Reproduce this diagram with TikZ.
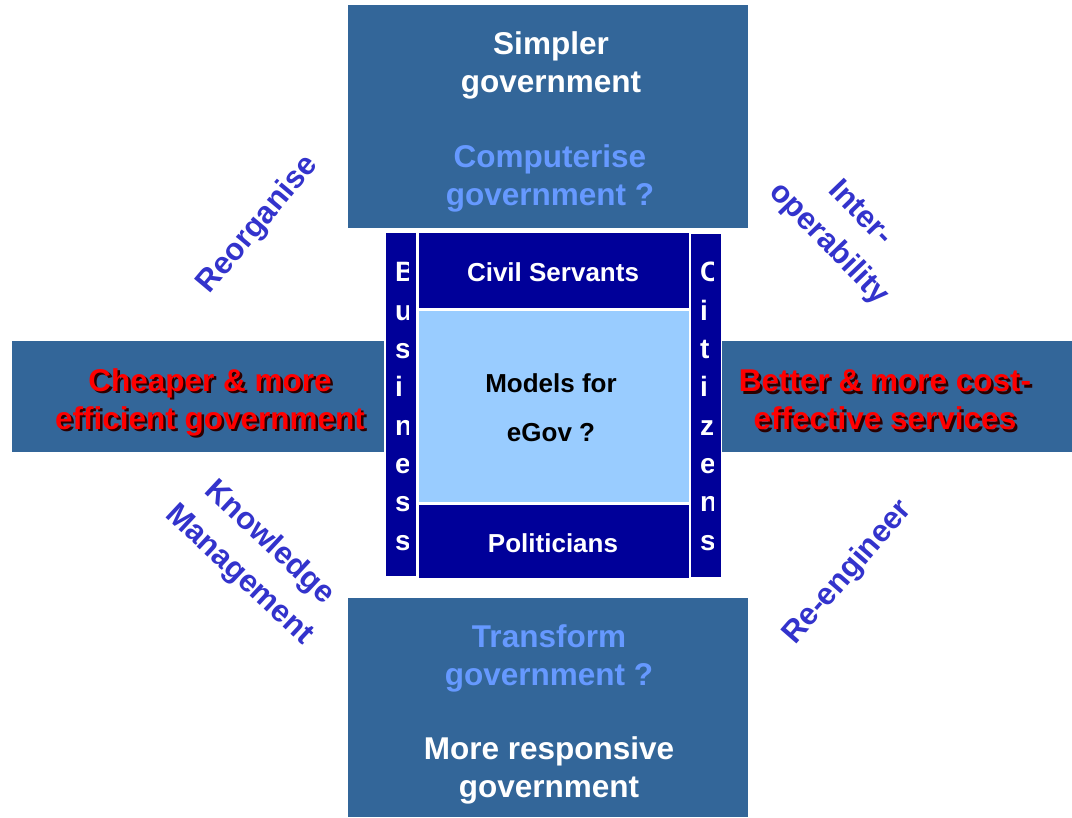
\documentclass[tikz,border=0pt]{standalone}
\usepackage{fontspec}
\setmainfont{Liberation Sans}
\definecolor{boxblue}{HTML}{336699}
\definecolor{navy}{HTML}{000099}
\definecolor{lightfill}{HTML}{99CCFF}
\definecolor{lighttext}{HTML}{6699FF}
\definecolor{diag}{HTML}{3333CC}
\definecolor{redtext}{HTML}{FF0000}
\definecolor{shadowc}{HTML}{2A0000}
\tikzset{
  bigbox/.style={fill=boxblue, draw=none},
  navybox/.style={fill=navy, draw=none},
  bigtext/.style={font=\bfseries\fontsize{31.5}{38}\selectfont, align=center, inner sep=0pt},
  midtext/.style={font=\bfseries\fontsize{26}{49}\selectfont, align=center, inner sep=0pt},
  diagtext/.style={font=\bfseries\fontsize{31}{44}\selectfont, align=center, inner sep=0pt, text=diag},
  lettertext/.style={font=\bfseries\fontsize{28}{30}\selectfont, text=white, anchor=base west, inner sep=0pt},
}
\begin{document}
\begin{tikzpicture}[x=1pt,y=-1pt]
\useasboundingbox (0,0) rectangle (1072,818);
\fill[white] (0,0) rectangle (1072,818);
% big boxes
\fill[bigbox] (348,5) rectangle (748,228);
\fill[bigbox] (348,598) rectangle (748,817);
\fill[bigbox] (12,341) rectangle (384,452);
\fill[bigbox] (722,341) rectangle (1072,452);
% central boxes
\fill[navybox] (386,233) rectangle (416,576);
\fill[navybox] (691,234) rectangle (721,577);
\fill[navybox] (419,233) rectangle (689,308);
\fill[lightfill] (419,311) rectangle (689,502);
\fill[navybox] (419,505) rectangle (689,578);
% top / bottom texts
\node[bigtext, text=white] (simpler) at (551,65) {Simpler\\government};
\node[bigtext, text=lighttext] (computerise) at (550,178) {Computerise\\government ?};
\node[bigtext, text=lighttext] (transform) at (549,658) {Transform\\government ?};
\node[bigtext, text=white] (responsive) at (549,770) {More responsive\\government};
% red texts with shadow
\node[bigtext, text=shadowc] (cheapershadow) at (212.5,404.5) {Cheaper \& more\\efficient government};
\node[bigtext, text=redtext] (cheaper) at (210,402) {Cheaper \& more\\efficient government};
\node[bigtext, text=shadowc] (bettershadow) at (887.5,402.5) {Better \& more cost-\\effective services};
\node[bigtext, text=redtext] (better) at (885,400) {Better \& more cost-\\effective services};
% centre texts
\node[midtext, text=white] (civil) at (553,272) {Civil Servants};
\node[midtext, text=black] (models) at (551,408) {Models for\\eGov ?};
\node[midtext, text=white] (politicians) at (553,543) {Politicians};
% vertical letters
\begin{scope}
\clip (386,233) rectangle (408,576);
\foreach \l [count=\i from 0] in {B,u,s,i,n,e,s,s} {
  \node[lettertext] (bus\i) at (395,{282+38.3*\i}) {\l};
}
\end{scope}
\begin{scope}
\clip (691,234) rectangle (713,577);
\foreach \l [count=\i from 0] in {C,i,t,i,z,e,n,s} {
  \node[lettertext] (cit\i) at (700,{282+38.3*\i}) {\l};
}
\end{scope}
% diagonal labels
\node[diagtext, rotate=50] (reorganise) at (258,225) {Reorganise};
\node[diagtext, rotate=-46] (interop) at (844,229) {Inter-\\operability};
\node[diagtext, rotate=-43] (knowledge) at (254,559) {Knowledge\\Management};
\node[diagtext, rotate=49] (reengineer) at (848,573) {Re-engineer};
\end{tikzpicture}
\end{document}
